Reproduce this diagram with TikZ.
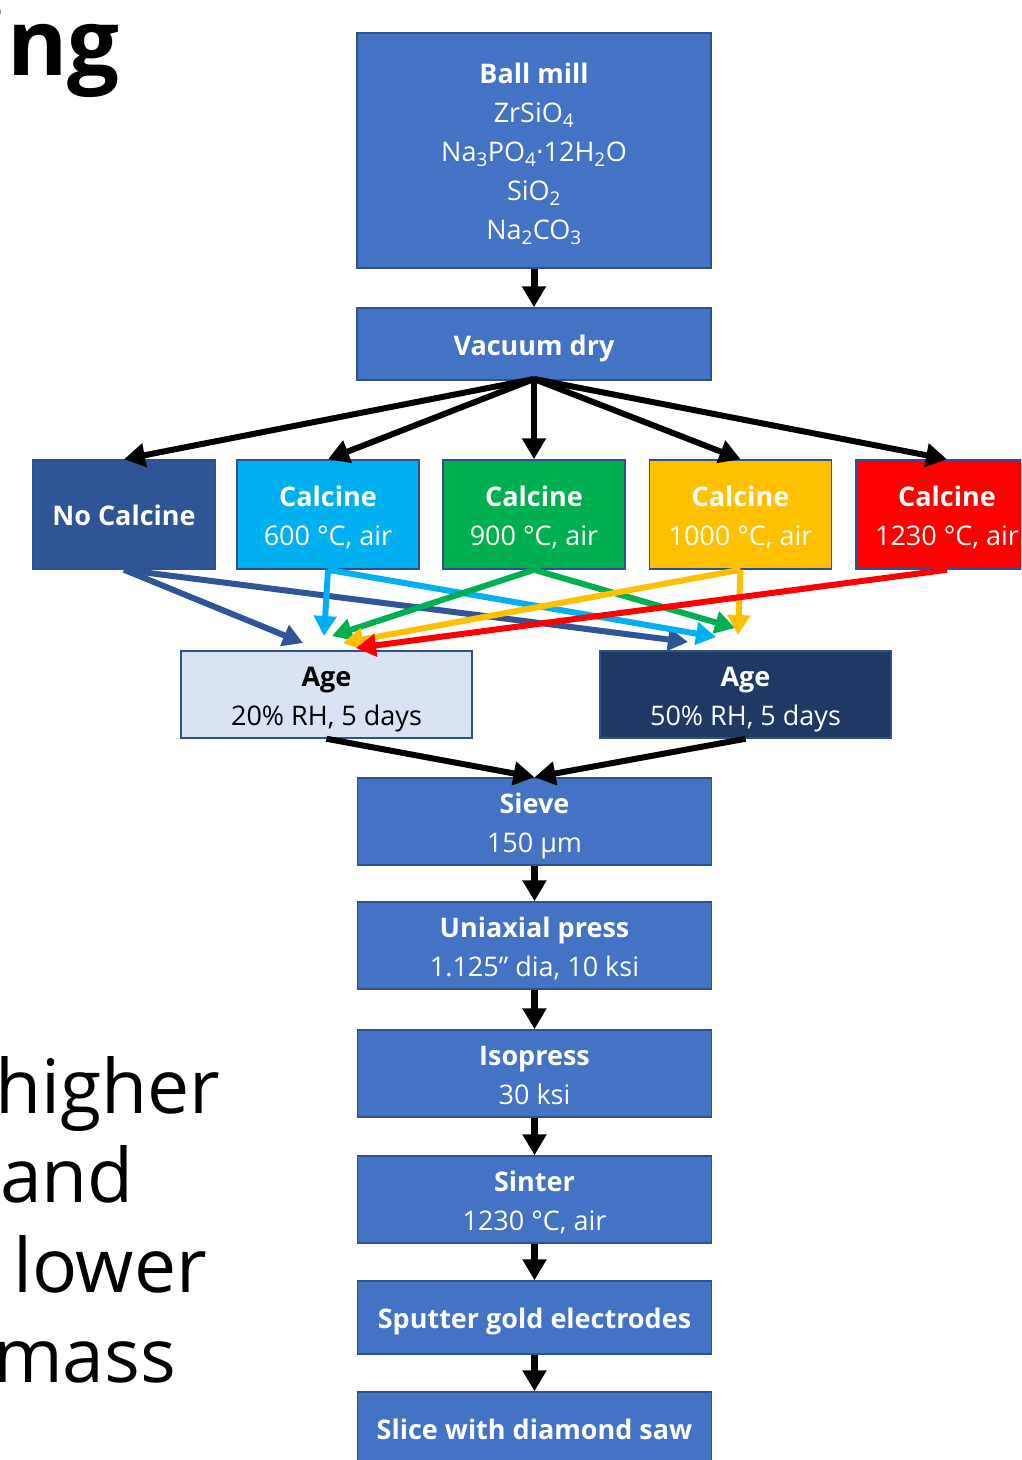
\documentclass[tikz,border=0pt]{standalone}
\usepackage{fontspec}
\setmainfont{Open Sans}
\usetikzlibrary{arrows.meta}
\definecolor{mainblue}{HTML}{4472C4}
\definecolor{bordblue}{HTML}{2F528F}
\definecolor{ncblue}{HTML}{2F5597}
\definecolor{cyanc}{HTML}{00B0F0}
\definecolor{greenc}{HTML}{00B050}
\definecolor{yellowc}{HTML}{FFC000}
\definecolor{redc}{HTML}{FF0000}
\definecolor{agelight}{HTML}{DAE3F3}
\definecolor{agedark}{HTML}{203864}
\newcommand\bt[1]{\raisebox{-3.5pt}[\height][\depth]{\begin{tabular}{@{}c@{}}#1\end{tabular}}}
\begin{document}
\begin{tikzpicture}[x=1pt,y=-1pt,
  box/.style={draw=bordblue, line width=1.5pt, fill=mainblue, text=white, inner sep=0pt,
    align=center, font=\fontsize{27}{39}\selectfont, minimum width=354pt},
  calc/.style={box, minimum width=182pt, minimum height=109pt},
  agebox/.style={box, minimum width=291pt, minimum height=87pt},
  flow/.style={line width=7pt, -{Triangle[width=23pt,length=21pt]}},
  fan/.style={line width=6pt, -{Triangle[width=23pt,length=21pt]}},
  cflow/.style={line width=6pt, -{Triangle[width=22pt,length=20pt]}},
  side/.style={anchor=base west, inner sep=0pt, font=\fontsize{75}{88}\selectfont}
]
\useasboundingbox (0,0) rectangle (1021,1460);
\clip (0,0) rectangle (1021,1460);
\fill[white] (0,0) rectangle (1021,1460);

% left slide text
\node[anchor=base east, inner sep=0pt, font=\fontsize{92}{100}\selectfont\bfseries] (ing) at (120,75) {ing};
\node[side] (t1) at (-5,1113) {higher};
\node[side] (t2) at (0,1202) {and};
\node[side] (t3) at (13,1292) {lower};
\node[side] (t4) at (-7,1382) {mass};

% boxes
\node[box, minimum height=235pt] (ball) at (534,150.5)
  {\bt{\textbf{Ball mill}\\ZrSiO\textsubscript{4}\\Na\textsubscript{3}PO\textsubscript{4}·12H\textsubscript{2}O\\SiO\textsubscript{2}\\Na\textsubscript{2}CO\textsubscript{3}}};
\node[box, minimum height=72pt] (vac) at (534,344) {\bt{\textbf{Vacuum dry}}};

\node[calc, fill=ncblue] (nc) at (124,514.5) {\bt{\textbf{No Calcine}}};
\node[calc, fill=cyanc] (c600) at (328,514.5) {\bt{\textbf{Calcine}\\600 °C, air}};
\node[calc, fill=greenc] (c900) at (534,514.5) {\bt{\textbf{Calcine}\\900 °C, air}};
\node[calc, fill=yellowc] (c1000) at (740.5,514.5) {\bt{\textbf{Calcine}\\1000 °C, air}};
\node[calc, fill=redc] (c1230) at (947,514.5) {\bt{\textbf{Calcine}\\1230 °C, air}};

\node[agebox, fill=agelight, text=black] (a20) at (326.5,694.5) {\bt{\textbf{Age}\\20\% RH, 5 days}};
\node[agebox, fill=agedark] (a50) at (745.5,694.5) {\bt{\textbf{Age}\\50\% RH, 5 days}};

\node[box, minimum height=87pt] (sieve) at (534.5,821.5) {\bt{\textbf{Sieve}\\150 µm}};
\node[box, minimum height=87pt] (press) at (534.5,945.5) {\bt{\textbf{Uniaxial press}\\1.125” dia, 10 ksi}};
\node[box, minimum height=87pt] (iso) at (534.5,1073.5) {\bt{\textbf{Isopress}\\30 ksi}};
\node[box, minimum height=87pt] (sinter) at (534.5,1199.5) {\bt{\textbf{Sinter}\\1230 °C, air}};
\node[box, minimum height=73pt] (sput) at (534.5,1317.5) {\bt{\textbf{Sputter gold electrodes}}};
\node[box, minimum height=73pt] (slice) at (534.5,1428.5) {\bt{\textbf{Slice with diamond saw}}};

% black flow arrows
\draw[flow] (ball.south) -- (vac.north);
\coordinate (vs) at (534,379);
\draw[fan] (vs) -- (nc.north);
\draw[fan] (vs) -- (c600.north);
\draw[fan] (vs) -- (c900.north);
\draw[fan] (vs) -- (c1000.north);
\draw[fan] (vs) -- (c1230.north);

% tips on age boxes
\coordinate (t20nc) at (303,643);
\coordinate (t20cy) at (324,636);
\coordinate (t20gr) at (332,636);
\coordinate (t20ye) at (343,643);
\coordinate (t20rd) at (356,648);
\coordinate (t50nc) at (688,642);
\coordinate (t50cy) at (716,637);
\coordinate (t50gr) at (735,628);
\coordinate (t50ye) at (738,635);

\draw[cflow, ncblue] (nc.south) -- (t20nc);
\draw[cflow, ncblue] (nc.south) -- (t50nc);
\draw[cflow, cyanc] (c600.south) -- (t20cy);
\draw[cflow, cyanc] (c600.south) -- (t50cy);
\draw[cflow, greenc] (c900.south) -- (t20gr);
\draw[cflow, greenc] (c900.south) -- (t50gr);
\draw[cflow, yellowc] (c1000.south) -- (t50ye);
\draw[cflow, yellowc] (c1000.south) -- (t20ye);
\draw[cflow, redc] (c1230.south) -- (t20rd);

\draw[fan] (a20.south) -- (sieve.north);
\draw[fan] (a50.south) -- (sieve.north);
\draw[flow] (sieve.south) -- (press.north);
\draw[flow] (press.south) -- (iso.north);
\draw[flow] (iso.south) -- (sinter.north);
\draw[flow] (sinter.south) -- (sput.north);
\draw[flow] (sput.south) -- (slice.north);
\end{tikzpicture}
\end{document}
